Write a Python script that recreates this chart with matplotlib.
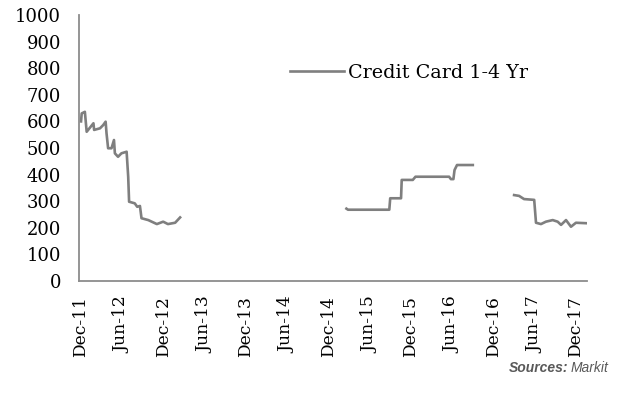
import matplotlib
matplotlib.use("Agg")
import matplotlib.pyplot as plt
import pandas as pd

series_name = "Credit Card 1-4 Yr"

# Three observed stretches of the series (gaps between them have no data)
dates_1 = ["2011-12-01", "2011-12-04", "2011-12-18", "2011-12-26", "2012-01-25", "2012-01-28",
           "2012-02-23", "2012-03-08", "2012-03-19", "2012-03-23", "2012-03-30", "2012-04-14",
           "2012-04-25", "2012-04-29", "2012-05-13", "2012-05-28", "2012-06-20", "2012-06-27",
           "2012-07-01", "2012-07-26", "2012-08-06", "2012-08-18", "2012-08-25", "2012-09-24",
           "2012-11-01", "2012-11-29", "2012-12-20", "2013-01-21", "2013-02-12"]
values_1 = [600, 630, 636, 561, 593, 568, 574, 586, 599, 555, 499, 499, 530, 480, 467, 480,
            486, 392, 298, 292, 279, 282, 236, 229, 214, 223, 214, 219, 239]

dates_2 = ["2015-02-19", "2015-02-26", "2015-08-28", "2015-09-01", "2015-10-19", "2015-10-22",
           "2015-12-10", "2015-12-22", "2016-05-19", "2016-05-27", "2016-06-07", "2016-06-12",
           "2016-06-23", "2016-09-01"]
values_2 = [272, 268, 268, 311, 311, 380, 380, 392, 392, 383, 383, 417, 436, 436]

dates_3 = ["2017-03-03", "2017-03-25", "2017-04-16", "2017-05-31", "2017-06-08", "2017-06-30",
           "2017-07-22", "2017-08-21", "2017-09-12", "2017-09-27", "2017-10-19", "2017-11-10",
           "2017-12-02", "2018-01-23"]
values_3 = [323, 320, 308, 305, 219, 214, 223, 229, 223, 211, 229, 204, 219, 217]

tick_dates = ["2011-12-01", "2012-06-01", "2012-12-01", "2013-06-01", "2013-12-01", "2014-06-01",
              "2014-12-01", "2015-06-01", "2015-12-01", "2016-06-01", "2016-12-01", "2017-06-01",
              "2017-12-01"]
tick_labels = ["Dec-11", "Jun-12", "Dec-12", "Jun-13", "Dec-13", "Jun-14", "Dec-14", "Jun-15",
               "Dec-15", "Jun-16", "Dec-16", "Jun-17", "Dec-17"]
y_ticks = [0, 100, 200, 300, 400, 500, 600, 700, 800, 900, 1000]

line_color = "#7f7f7f"
axis_color = "#8c8c8c"
serif = ["DejaVu Serif"]

fig = plt.figure(figsize=(6.23, 4.09), dpi=100)
ax = fig.add_axes([79/623, 1-281/409, (587-79)/623, (281-15)/409])

for i, (d, v) in enumerate([(dates_1, values_1), (dates_2, values_2), (dates_3, values_3)]):
    ax.plot(pd.to_datetime(d), v, color=line_color, lw=1.9,
            label=series_name if i == 0 else None, solid_joinstyle="round")

ax.set_xlim(pd.Timestamp("2011-11-22"), pd.Timestamp("2018-01-20"))
ax.set_ylim(0, 1000)
ax.set_yticks(y_ticks)
ax.set_yticklabels([str(t) for t in y_ticks], family=serif, fontsize=13)
ax.set_xticks(pd.to_datetime(tick_dates))
ax.set_xticklabels(tick_labels, rotation=90, family=serif, fontsize=12.3)
ax.tick_params(axis="y", length=0, pad=13, colors="black")
ax.tick_params(axis="x", length=0, pad=11, colors="black")

for s in ["top", "right"]:
    ax.spines[s].set_visible(False)
for s in ["left", "bottom"]:
    ax.spines[s].set_color(axis_color)
    ax.spines[s].set_linewidth(1.3)

leg = ax.legend(loc="upper left", bbox_to_anchor=(0.40, 0.845), frameon=False,
                prop={"family": serif, "size": 13.8}, handlelength=2.85, handletextpad=0.2,
                borderaxespad=0)

src_y = 1 - 368/409
t_mark = fig.text(0.977, src_y, "Markit", ha="right", va="center", fontsize=10, color="#595959",
                  family="Liberation Sans", style="italic")
fig.canvas.draw()
bb = t_mark.get_window_extent()
x_left = bb.x0 / fig.bbox.width - 0.004
fig.text(x_left, src_y, "Sources:", ha="right", va="center", fontsize=10, color="#595959",
         family="Liberation Sans", weight="bold", style="italic")

fig.savefig("out.png", dpi=100)
